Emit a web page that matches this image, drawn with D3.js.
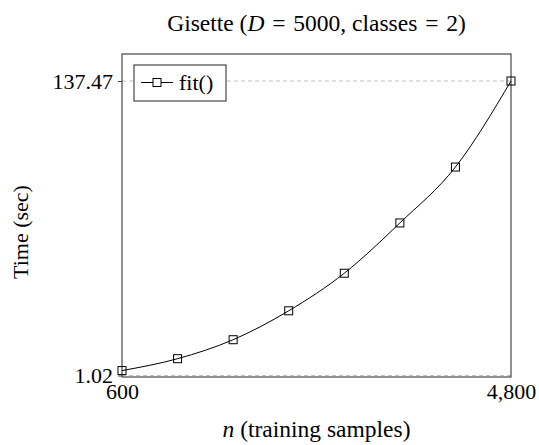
<!DOCTYPE html>
<html>
<head>
<meta charset="utf-8">
<script src="https://cdn.jsdelivr.net/npm/d3@7"></script>
<style>
  body { margin: 0; background: #fff; }
  svg text { font-family: "Liberation Serif", "Times New Roman", Times, "DejaVu Serif", serif !important; }
</style>
</head>
<body>
<svg id="chart"></svg>
<script>
// data
const samples = [600, 1200, 1800, 2400, 3000, 3600, 4200, 4800];
const fitTime = [3.3, 8.8, 17.6, 31.0, 48.4, 71.7, 97.6, 137.47];
const xTicks = [600, 4800];
const yTicks = [1.02, 137.47];
const seriesName = "fit()";
const serif = '"Liberation Serif", "Times New Roman", serif';

function main() {
  const width = 539, height = 445;
  const frame = {left: 122, right: 511, top: 54, bottom: 377};

  const svg = d3.select("#chart")
    .attr("width", width)
    .attr("height", height)
    .attr("viewBox", [0, 0, width, height]);

  const x = d3.scaleLinear().domain([600, 4800]).range([frame.left, frame.right]);
  // 1.02 and 137.47 sit at the dashed lines, the frame is padded around them
  const y = d3.scaleLinear().domain([1.02, 137.47]).range([375.5, 81]);

  drawGrid(svg, x, y, frame);
  drawFrame(svg, frame);
  drawAxes(svg, x, y, frame);
  drawSeries(svg, x, y);
  drawLegend(svg);
  drawLabels(svg, frame);
}

function drawGrid(svg, x, y, frame) {
  svg.append("g")
    .attr("stroke", "#b0b0b0")
    .attr("stroke-width", 0.8)
    .attr("stroke-dasharray", "4,3")
    .selectAll("line")
    .data(yTicks)
    .join("line")
    .attr("x1", frame.left)
    .attr("x2", frame.right)
    .attr("y1", d => y(d))
    .attr("y2", d => y(d));
}

function drawFrame(svg, frame) {
  svg.append("rect")
    .attr("x", frame.left)
    .attr("y", frame.top)
    .attr("width", frame.right - frame.left)
    .attr("height", frame.bottom - frame.top)
    .attr("fill", "none")
    .attr("stroke", "#222")
    .attr("stroke-width", 1);
}

function drawAxes(svg, x, y, frame) {
  const fmt = d3.format(",");

  const xAxis = svg.append("g")
    .attr("transform", `translate(0,${frame.bottom})`)
    .call(d3.axisBottom(x).tickValues(xTicks).tickFormat(fmt).tickSize(0).tickPadding(6));
  xAxis.attr("font-family", serif);
  xAxis.select(".domain").remove();
  xAxis.selectAll("text")
    .attr("font-size", 22)
    .attr("fill", "#000");

  const yAxis = svg.append("g")
    .attr("transform", `translate(${frame.left},0)`)
    .call(d3.axisLeft(y).tickValues(yTicks).tickFormat(d => d.toFixed(2)).tickSize(4).tickPadding(5));
  yAxis.attr("font-family", serif);
  yAxis.select(".domain").remove();
  yAxis.selectAll("line").attr("stroke", "#444");
  yAxis.selectAll("text")
    .attr("font-size", 22)
    .attr("fill", "#000");
}

function drawSeries(svg, x, y) {
  const pts = samples.map((s, i) => [s, fitTime[i]]);

  const line = d3.line()
    .x(d => x(d[0]))
    .y(d => y(d[1]))
    .curve(d3.curveMonotoneX);

  svg.append("path")
    .datum(pts)
    .attr("fill", "none")
    .attr("stroke", "#000")
    .attr("stroke-width", 1)
    .attr("d", line);

  svg.append("g")
    .selectAll("rect")
    .data(pts)
    .join("rect")
    .attr("x", d => x(d[0]) - 4)
    .attr("y", d => y(d[1]) - 4)
    .attr("width", 8)
    .attr("height", 8)
    .attr("fill", "none")
    .attr("stroke", "#000")
    .attr("stroke-width", 1);
}

function drawLegend(svg) {
  const g = svg.append("g").attr("transform", "translate(134,65)");
  g.append("rect")
    .attr("width", 92)
    .attr("height", 36)
    .attr("fill", "#fff")
    .attr("stroke", "#222")
    .attr("stroke-width", 1);
  g.append("line")
    .attr("x1", 7).attr("x2", 39)
    .attr("y1", 17.5).attr("y2", 17.5)
    .attr("stroke", "#000");
  g.append("rect")
    .attr("x", 19).attr("y", 13.5)
    .attr("width", 8).attr("height", 8)
    .attr("fill", "#fff")
    .attr("stroke", "#000");
  g.append("text")
    .attr("x", 45)
    .attr("y", 25)
    .attr("font-size", 22)
    .attr("fill", "#000")
    .text(seriesName);
}

function drawLabels(svg, frame) {
  const cx = (frame.left + frame.right) / 2;

  // math-style spacing around "="
  const title = svg.append("text")
    .attr("x", cx)
    .attr("y", 31)
    .attr("text-anchor", "middle")
    .attr("font-size", 23.5)
    .attr("fill", "#000");
  title.append("tspan").text("Gisette (");
  title.append("tspan").attr("font-style", "italic").text("D");
  title.append("tspan").text("\u2004=\u20045000, classes\u2004=\u20042)");

  const xl = svg.append("text")
    .attr("x", cx)
    .attr("y", 437)
    .attr("text-anchor", "middle")
    .attr("font-size", 23.5)
    .attr("fill", "#000");
  xl.append("tspan").attr("font-style", "italic").text("n");
  xl.append("tspan").text(" (training samples)");

  svg.append("text")
    .attr("transform", "translate(28,232) rotate(-90)")
    .attr("text-anchor", "middle")
    .attr("font-size", 22)
    .attr("fill", "#000")
    .text("Time (sec)");
}

main();
</script>
</body>
</html>
